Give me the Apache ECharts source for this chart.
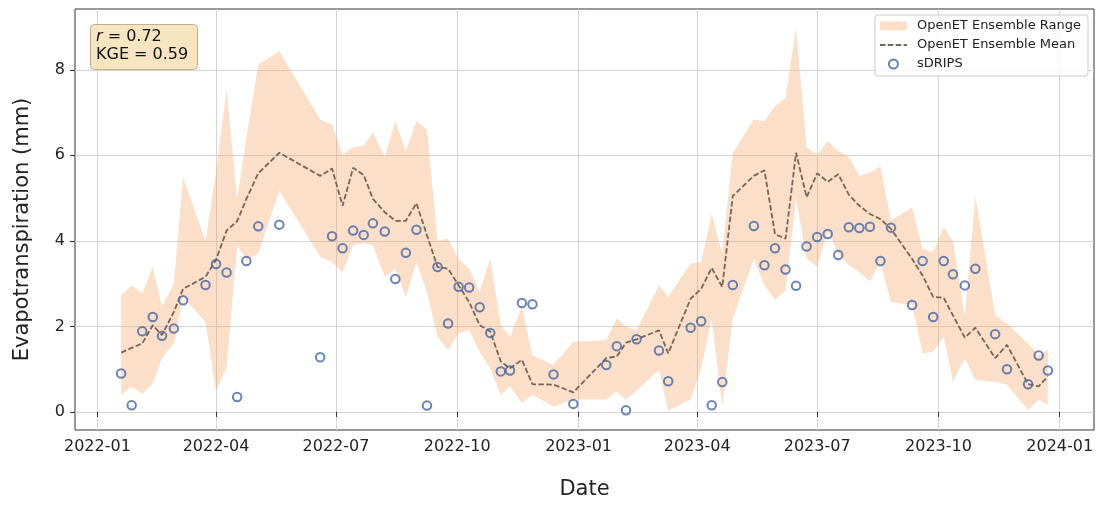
<!DOCTYPE html>
<html>
<head>
<meta charset="utf-8">
<script src="https://cdn.jsdelivr.net/npm/echarts@6/dist/echarts.min.js"></script>
<style>
html,body{margin:0;padding:0;background:#fff;}
#chart{width:1101px;height:505px;}
</style>
</head>
<body>
<div id="chart"></div>
<script>
// ---- data ----
const dates = [
 '2022-01-19','2022-01-27','2022-02-04','2022-02-12','2022-02-19','2022-02-28','2022-03-07','2022-03-24',
 '2022-04-01','2022-04-09','2022-04-17','2022-04-24','2022-05-03','2022-05-19','2022-06-19','2022-06-28',
 '2022-07-06','2022-07-14','2022-07-22','2022-07-29','2022-08-07','2022-08-15','2022-08-23','2022-08-31',
 '2022-09-08','2022-09-16','2022-09-24','2022-10-02','2022-10-10','2022-10-18','2022-10-26','2022-11-03',
 '2022-11-10','2022-11-19','2022-11-27','2022-12-13','2022-12-28','2023-01-22','2023-01-30','2023-02-06',
 '2023-02-14','2023-03-03','2023-03-10','2023-03-27','2023-04-04','2023-04-12','2023-04-20','2023-04-28',
 '2023-05-14','2023-05-22','2023-05-30','2023-06-07','2023-06-15','2023-06-23','2023-07-01','2023-07-09',
 '2023-07-17','2023-07-25','2023-08-02','2023-08-10','2023-08-18','2023-08-26','2023-09-11','2023-09-19',
 '2023-09-27','2023-10-05','2023-10-12','2023-10-21','2023-10-29','2023-11-13','2023-11-22','2023-12-08',
 '2023-12-16','2023-12-23'
];
const sdrips = [
 0.90,0.16,1.89,2.22,1.78,1.95,2.61,2.97,
 3.46,3.26,0.35,3.53,4.34,4.38,1.28,4.11,
 3.83,4.24,4.14,4.41,4.22,3.11,3.72,4.26,
 0.15,3.39,2.07,2.93,2.91,2.45,1.85,0.95,
 0.97,2.55,2.52,0.88,0.19,1.10,1.54,0.04,
 1.70,1.44,0.72,1.97,2.12,0.16,0.70,2.97,
 4.35,3.43,3.83,3.33,2.95,3.87,4.09,4.16,
 3.67,4.32,4.30,4.33,3.53,4.31,2.50,3.53,
 2.22,3.53,3.22,2.96,3.35,1.82,1.00,0.65,
 1.32,0.97
];
const ensMean = [
 1.39,1.50,1.60,2.03,1.80,2.34,2.88,3.16,
 3.56,4.24,4.46,4.98,5.58,6.06,5.52,5.69,
 4.82,5.71,5.54,4.98,4.67,4.47,4.47,4.88,
 4.13,3.39,3.35,2.96,2.57,2.03,1.88,1.18,
 1.02,1.22,0.65,0.64,0.46,1.26,1.30,1.62,
 1.70,1.91,1.37,2.65,2.88,3.37,2.92,5.05,
 5.52,5.65,4.16,4.05,6.06,5.02,5.58,5.38,
 5.56,5.08,4.82,4.63,4.51,4.28,3.58,3.19,
 2.69,2.67,2.26,1.74,1.97,1.26,1.57,0.65,
 0.60,0.83
];
const ensUpper = [
 2.73,2.96,2.77,3.39,2.46,3.00,5.48,4.00,
 5.60,7.53,4.98,6.40,8.12,8.43,6.84,6.72,
 6.02,6.19,6.22,6.54,5.95,6.80,6.10,6.80,
 6.60,4.00,4.05,3.58,3.35,2.81,3.58,2.03,
 1.76,2.46,1.33,1.10,1.64,1.68,2.19,2.00,
 1.91,2.96,2.69,3.47,3.50,4.63,3.70,6.06,
 6.84,6.80,7.15,7.34,8.97,6.18,6.02,6.33,
 6.10,5.96,5.52,5.60,5.74,4.47,4.78,3.81,
 3.74,4.32,4.00,2.22,5.05,2.26,2.07,1.60,
 1.33,1.45
];
const ensLower = [
 0.40,0.60,0.42,0.67,1.26,1.60,2.69,2.10,
 0.48,1.05,3.90,3.55,3.70,5.17,3.63,3.50,
 3.27,3.89,3.95,3.89,3.16,3.35,2.69,3.50,
 2.81,1.76,1.45,1.84,1.91,1.41,1.02,0.40,
 0.60,0.21,0.40,0.13,0.29,0.29,0.48,0.29,
 0.50,0.98,0.03,0.29,1.02,2.19,0.13,2.19,
 3.58,2.96,2.63,2.84,4.98,3.58,3.39,4.24,
 3.70,3.43,3.27,3.05,3.50,2.57,2.50,1.37,
 1.41,1.76,0.71,1.26,0.75,0.71,0.64,0.05,
 0.29,0.17
];
const xTickLabels = ['2022-01','2022-04','2022-07','2022-10','2023-01','2023-04','2023-07','2023-10','2024-01'];
const yTickValues = [0, 2, 4, 6, 8];
const xRange = ['2021-12-15', '2024-01-27'];
const statR = '0.72';
const statKGE = '0.59';

// ---- build chart ----
const FONT = 'DejaVu Sans';
const bandColor = 'rgba(244,164,96,0.35)';
const meanColor = '#75655a';
const dotColor = '#4265a8';

const toTs = (s) => { const p = s.split('-').map(Number); return new Date(p[0], p[1] - 1, p[2] || 1).getTime(); };
const xs = dates.map(toTs);
const pair = (arr) => xs.map((t, i) => [t, arr[i]]);
const bandRows = xs.map((t, i) => [t, ensLower[i], ensUpper[i]]);
const xTickTs = xTickLabels.map(toTs);
const tsLabel = {};
xTickLabels.forEach((s, i) => { tsLabel[xTickTs[i]] = s; });

function renderBand(params, api) {
  if (params.dataIndex !== 0) return null;
  const pts = [];
  for (let i = 0; i < bandRows.length; i++) pts.push(api.coord([bandRows[i][0], bandRows[i][2]]));
  for (let i = bandRows.length - 1; i >= 0; i--) pts.push(api.coord([bandRows[i][0], bandRows[i][1]]));
  return {type: 'polygon', shape: {points: pts}, style: {fill: bandColor}, silent: true};
}

const chart = echarts.init(document.getElementById('chart'), null, {renderer: 'canvas'});
chart.setOption({
  animation: false,
  backgroundColor: '#fff',
  textStyle: {fontFamily: FONT},
  grid: {left: 75, right: 7, top: 9, bottom: 73, show: true, borderColor: '#333', borderWidth: 1, backgroundColor: 'transparent'},
  title: {
    text: '{i|r} = ' + statR + '\nKGE = ' + statKGE,
    left: 90, top: 24,
    padding: [4, 10, 6, 6],
    backgroundColor: 'rgba(245,222,179,0.8)',
    borderColor: '#c2b08e', borderWidth: 1, borderRadius: 4,
    textStyle: {
      fontFamily: FONT, fontSize: 16, fontWeight: 'normal', color: '#111', lineHeight: 18,
      rich: {i: {fontStyle: 'italic', fontFamily: FONT, fontSize: 16, color: '#111', lineHeight: 18}}
    }
  },
  legend: {
    orient: 'vertical', right: 13, top: 15,
    padding: [4, 7, 5, 4],
    itemWidth: 27, itemHeight: 9, itemGap: 5,
    backgroundColor: 'rgba(255,255,255,0.8)', borderColor: '#cccccc', borderWidth: 1, borderRadius: 3,
    textStyle: {fontFamily: FONT, fontSize: 13, color: '#222', lineHeight: 14, padding: [0, 0, 0, 5]},
    data: [
      {name: 'OpenET Ensemble Range', icon: 'rect', itemStyle: {color: bandColor}},
      {name: 'OpenET Ensemble Mean', itemStyle: {color: 'rgba(0,0,0,0)', borderWidth: 0}},
      {name: 'sDRIPS'}
    ]
  },
  xAxis: {
    type: 'value',
    min: toTs(xRange[0]), max: toTs(xRange[1]),
    name: 'Date', nameLocation: 'middle', nameGap: 49,
    nameTextStyle: {fontFamily: FONT, fontSize: 21, color: '#222'},
    axisLine: {show: false},
    axisTick: {show: true, length: 5, lineStyle: {color: '#333', width: 1}, customValues: xTickTs},
    axisLabel: {
      show: true, margin: 9, fontFamily: FONT, fontSize: 16, color: '#222',
      customValues: xTickTs,
      formatter: function (v) { return tsLabel[v] !== undefined ? tsLabel[v] : ''; }
    },
    splitLine: {show: true, lineStyle: {color: '#d4d4d4', width: 1}}
  },
  yAxis: {
    type: 'value', min: -0.42, max: 9.42,
    name: 'Evapotranspiration (mm)', nameLocation: 'middle', nameGap: 42,
    nameTextStyle: {fontFamily: FONT, fontSize: 21, color: '#222', padding: [0, 20, 0, 0]},
    axisLine: {show: false},
    axisTick: {show: true, length: 5, lineStyle: {color: '#333', width: 1}, customValues: yTickValues},
    axisLabel: {show: true, margin: 10, fontFamily: FONT, fontSize: 16, color: '#222', customValues: yTickValues},
    splitLine: {show: true, lineStyle: {color: '#d4d4d4', width: 1}}
  },
  series: [
    {
      name: 'OpenET Ensemble Range', type: 'custom', data: bandRows,
      encode: {x: 0, y: [1, 2]},
      renderItem: renderBand,
      itemStyle: {color: bandColor}, silent: true, z: 1
    },
    {
      name: 'OpenET Ensemble Mean', type: 'line', data: pair(ensMean),
      symbol: 'none', showSymbol: false,
      itemStyle: {color: 'rgba(0,0,0,0)'},
      lineStyle: {color: meanColor, width: 1.8, type: [5.5, 2.4]}, z: 3
    },
    {
      name: 'sDRIPS', type: 'scatter', data: pair(sdrips),
      symbol: 'circle', symbolSize: 8.5,
      itemStyle: {color: 'rgba(255,255,255,0)', borderColor: dotColor, borderWidth: 2}, z: 4
    }
  ]
});
</script>
</body>
</html>
